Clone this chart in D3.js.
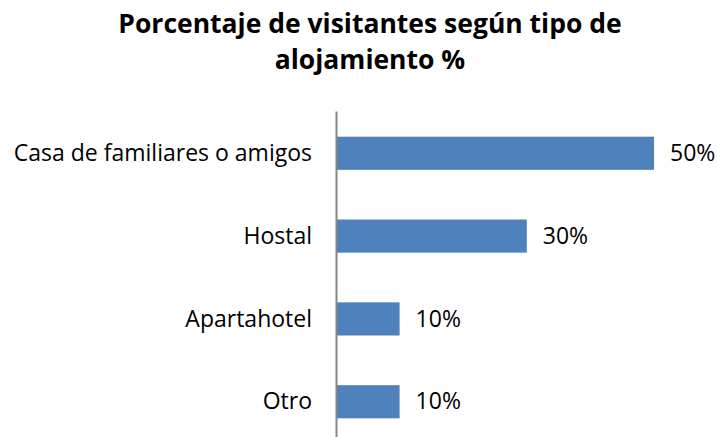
<!DOCTYPE html>
<html>
<head>
<meta charset="utf-8">
<script src="https://cdn.jsdelivr.net/npm/d3@7"></script>
<style>
  body { margin: 0; background: #fff; }
  text { font-family: "Open Sans", "Noto Sans", sans-serif; fill: #000; }
</style>
</head>
<body>
<div id="chart"></div>
<script>
// data
var categories = ["Casa de familiares o amigos", "Hostal", "Apartahotel", "Otro"];
var values = [50, 30, 10, 10];
var titleLines = ["Porcentaje de visitantes según tipo de", "alojamiento %"];

var width = 717;
var height = 437;

var svg = d3.select("#chart")
  .append("svg")
  .attr("width", width)
  .attr("height", height);

// title
svg.append("g")
  .selectAll("text")
  .data(titleLines)
  .enter()
  .append("text")
  .attr("x", 370)
  .attr("y", function(d, i) { return 33 + i * 36; })
  .attr("text-anchor", "middle")
  .attr("font-size", 26.5)
  .attr("font-weight", "bold")
  .text(function(d) { return d; });

// scales
var xScale = d3.scaleLinear()
  .domain([0, 50])
  .range([336, 654]);

var yScale = d3.scaleBand()
  .domain(categories)
  .range([111, 444])
  .paddingInner(0.6)
  .paddingOuter(0.31);

// bars
svg.selectAll("rect.bar")
  .data(values)
  .enter()
  .append("rect")
  .attr("class", "bar")
  .attr("x", xScale(0))
  .attr("y", function(d, i) { return yScale(categories[i]); })
  .attr("width", function(d) { return xScale(d) - xScale(0); })
  .attr("height", yScale.bandwidth())
  .attr("fill", "#4f81bd");

// value labels
svg.selectAll("text.val")
  .data(values)
  .enter()
  .append("text")
  .attr("class", "val")
  .attr("x", function(d) { return xScale(d) + 16; })
  .attr("y", function(d, i) { return yScale(categories[i]) + yScale.bandwidth() / 2; })
  .attr("dy", "0.33em")
  .attr("font-size", 23)
  .text(function(d) { return d + "%"; });

// y axis
var yAxis = d3.axisLeft(yScale).tickSize(0).tickPadding(24);
var gy = svg.append("g")
  .attr("transform", "translate(" + xScale(0) + ",0)")
  .call(yAxis);
gy.select(".domain").attr("stroke", "#868686").attr("stroke-width", 2);
gy.selectAll("text")
  .attr("dy", "0.33em")
  .attr("font-size", 23)
  .attr("font-family", "Open Sans, Noto Sans, sans-serif");
</script>
</body>
</html>
